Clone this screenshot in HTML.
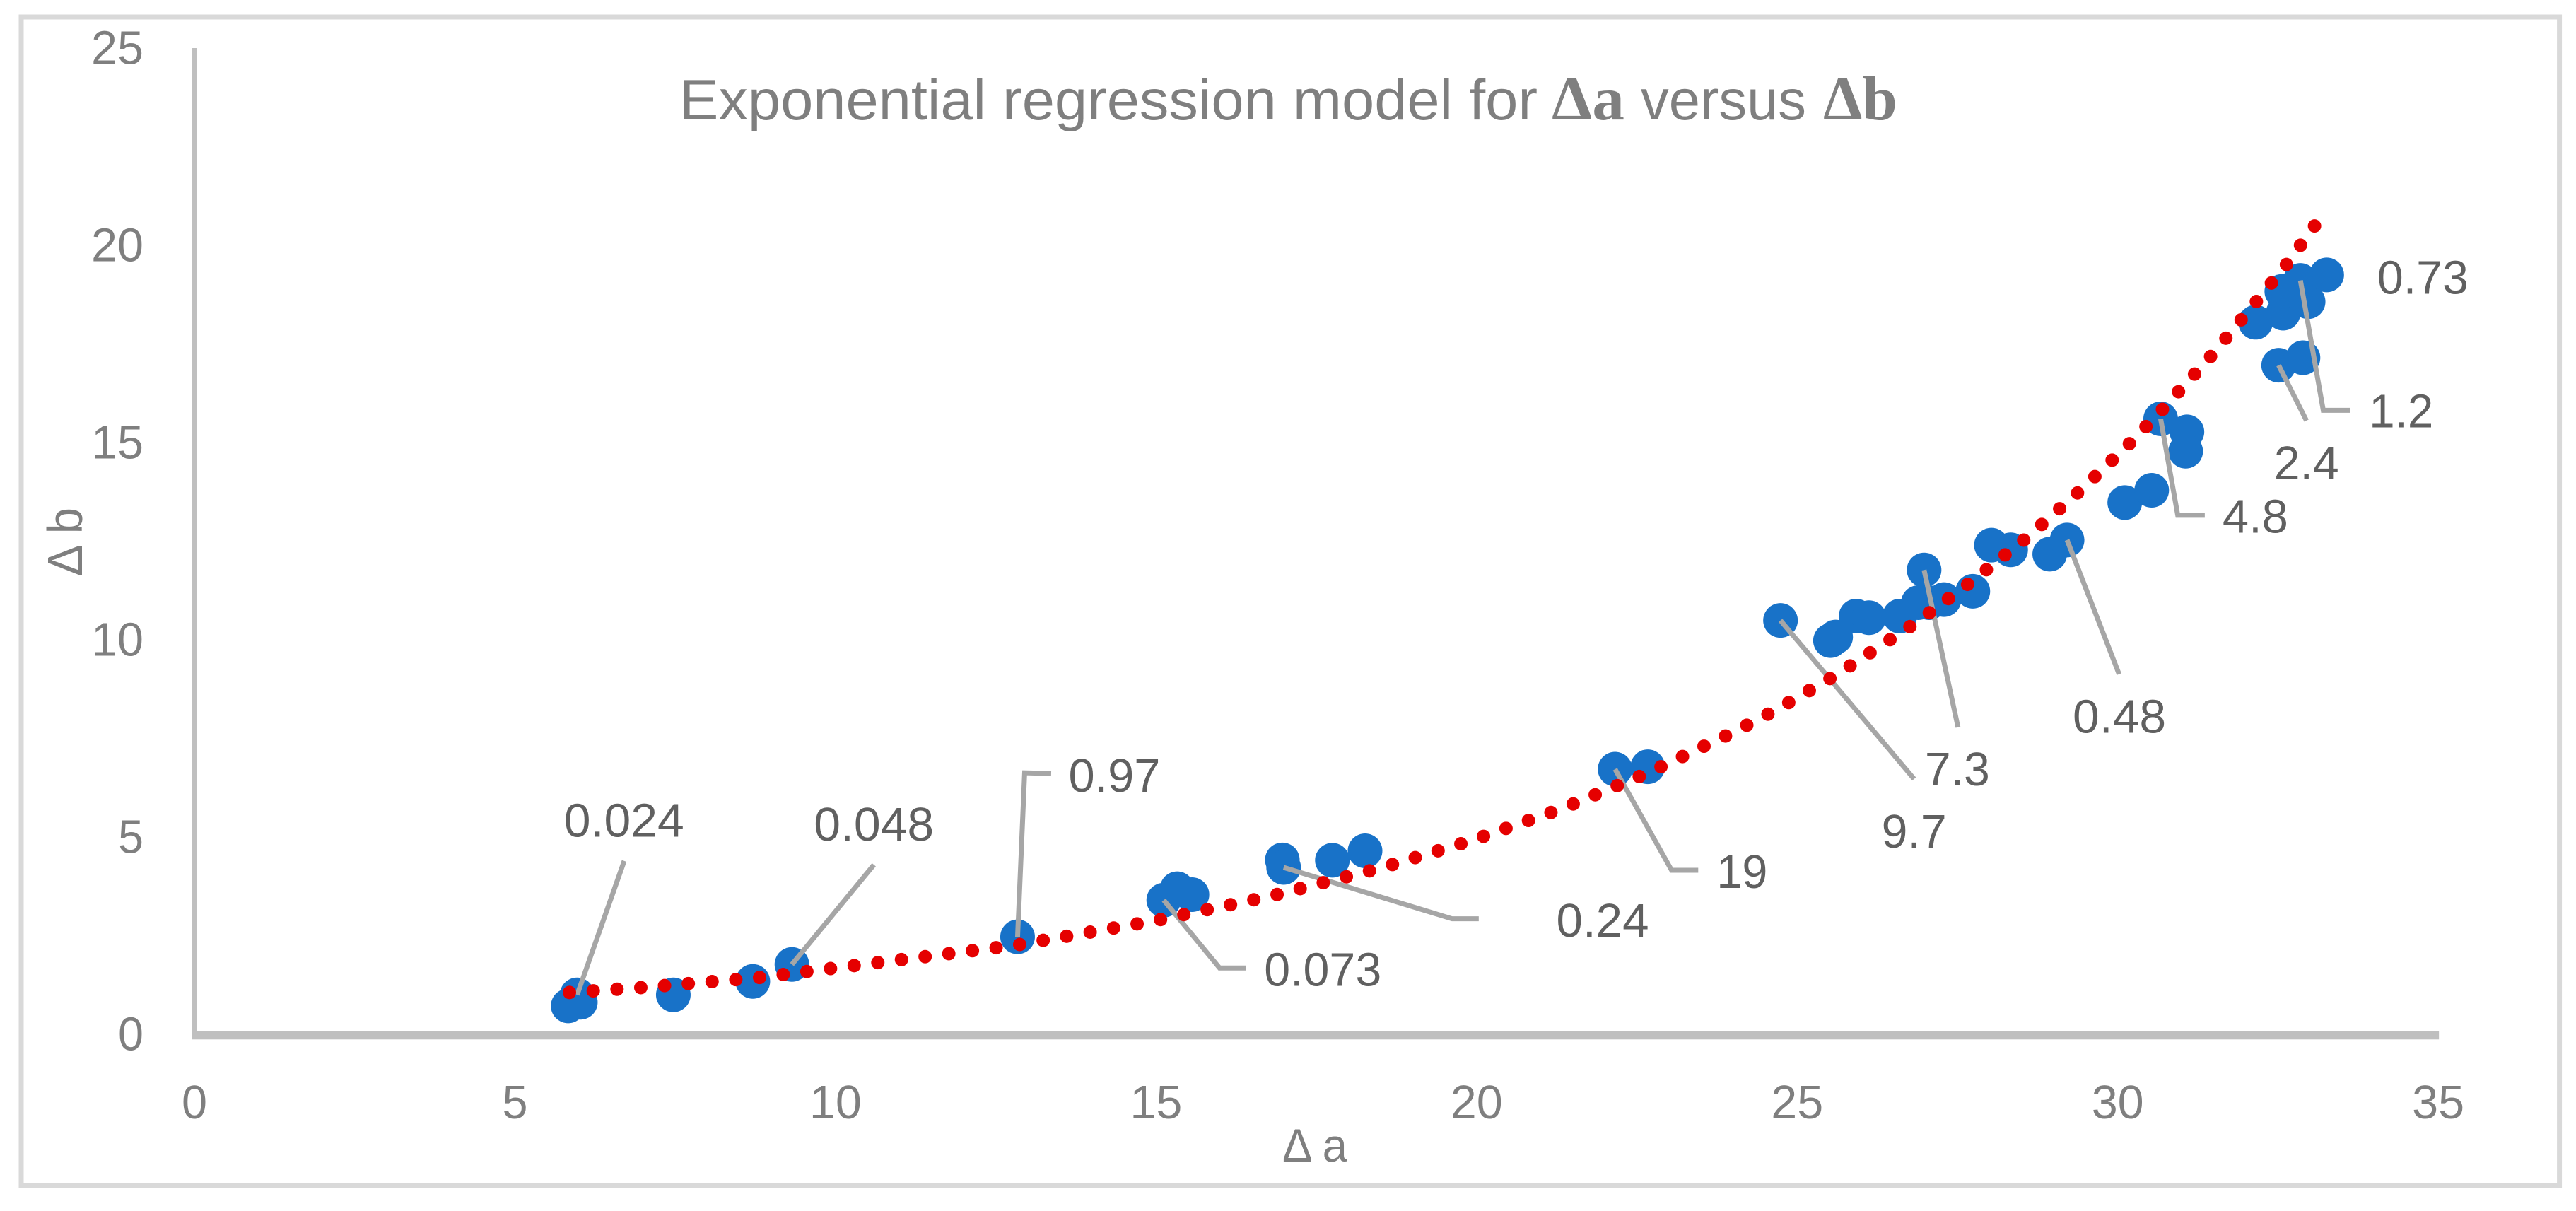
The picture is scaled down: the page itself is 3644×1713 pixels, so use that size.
<!DOCTYPE html>
<html lang="en">
<head>
<meta charset="utf-8">
<title>Exponential regression model</title>
<style>
html,body{margin:0;padding:0;background:#fff;}
svg{display:block;}
text{font-family:"Liberation Sans",sans-serif;}
.tick{font-size:67px;fill:#7f7f7f;}
.lbl{font-size:67px;fill:#606060;}
.ttl{font-size:81px;fill:#7f7f7f;}
.ttlb{font-family:"Liberation Serif",serif;font-weight:bold;font-size:88px;fill:#7f7f7f;}
.axt{font-size:66px;fill:#7f7f7f;}
.axty{font-size:70px;fill:#7f7f7f;}
</style>
</head>
<body>
<svg id="chart" xmlns="http://www.w3.org/2000/svg" width="3644" height="1713" viewBox="0 0 3644 1713">
  <rect x="0" y="0" width="3644" height="1713" fill="#ffffff"/>
  <rect x="30" y="24" width="3590.6" height="1653" fill="none" stroke="#d9d9d9" stroke-width="7"/>
  <g>
    <text class="ttl" x="961" y="169" textLength="1214" lengthAdjust="spacingAndGlyphs">Exponential regression model for</text>
    <text class="ttlb" x="2195" y="169" textLength="103" lengthAdjust="spacingAndGlyphs">Δa</text>
    <text class="ttl" x="2321" y="169" textLength="234" lengthAdjust="spacingAndGlyphs">versus</text>
    <text class="ttlb" x="2579" y="169" textLength="105" lengthAdjust="spacingAndGlyphs">Δb</text>
  </g>
  <text class="axt" x="1814" y="1643" textLength="92" lengthAdjust="spacingAndGlyphs">Δ a</text>
  <text class="axty" transform="translate(116 815) rotate(-90)" x="0" y="0" textLength="97" lengthAdjust="spacingAndGlyphs">Δ b</text>
  <g id="axes"></g>
  <g id="points"></g>
  <g id="leaders"></g>
  <g id="trend"></g>
  <g id="labels"></g>
</svg>
<script>
// Chart data
const xTicks = [0, 5, 10, 15, 20, 25, 30, 35];
const yTicks = [0, 5, 10, 15, 20, 25];
const deltaA = [5.83, 5.97, 6.02, 7.47, 8.71, 9.32, 12.84, 15.12, 15.33, 15.56, 16.97, 16.99, 17.75, 18.26, 22.16, 22.67, 24.74, 25.52, 25.6, 25.92, 26.12, 26.6, 26.89, 26.98, 27.06, 27.29, 27.74, 28.03, 28.33, 28.94, 29.21, 30.11, 30.53, 30.67, 31.08, 31.06, 32.51, 32.89, 32.15, 32.58, 32.56, 32.97, 32.85, 33.26];
const deltaB = [0.72, 1.0, 0.81, 1.0, 1.34, 1.77, 2.47, 3.4, 3.69, 3.54, 4.42, 4.23, 4.41, 4.65, 6.72, 6.78, 10.49, 9.98, 10.07, 10.6, 10.56, 10.6, 10.94, 11.77, 10.94, 11.02, 11.23, 12.4, 12.28, 12.17, 12.53, 13.48, 13.79, 15.6, 15.27, 14.78, 16.96, 17.15, 18.05, 18.28, 18.83, 18.57, 19.11, 19.25];
const trendA = [5.85, 6.94, 8.77, 12.78, 14.96, 16.76, 18.54, 19.94, 21.33, 22.68, 24.01, 24.67, 25.62, 26.85, 27.73, 28.59, 29.42, 30.22, 30.72, 31.47, 32.17, 32.64, 33.07];
const trendB = [1.06, 1.18, 1.43, 2.25, 2.87, 3.49, 4.23, 4.92, 5.72, 6.63, 7.66, 8.22, 9.12, 10.43, 11.49, 12.6, 13.79, 15.03, 15.88, 17.22, 18.59, 19.53, 20.49];
const labelValues = ['0.024', '0.048', '0.97', '0.073', '0.24', '19', '9.7', '7.3', '0.48', '4.8', '2.4', '1.2', '0.73'];
const labelPointIndex = [1, 5, 6, 7, 11, 14, 16, 23, 30, 33, 36, 42, 43];

// Axis functions
function xPos(v) { return 275 + v * 90.69; }
function yPos(v) { return 1463 - v * 55.8; }

// Label layout relative to the anchor point (pixels): leader path offsets, text left, baseline, text width
const labelLayout = {
  '0.024': { path: [[66.6, -189.4]], tx: -18.6, ty: -223.5, w: 170 },
  '0.048': { path: [[116, -141]], tx: 31, ty: -175, w: 170 },
  '0.97': { path: [[10, -232], [47.5, -231]], tx: 72, ty: -205.4, w: 130 },
  '0.073': { path: [[79, 96], [116, 96]], tx: 142, ty: 121, w: 166 },
  '0.24': { path: [[238.4, 72.7], [276, 72.7]], tx: 385.7, ty: 98, w: 131 },
  '19': { path: [[80, 143], [117.6, 143]], tx: 143.7, ty: 168, w: 72 },
  '9.7': { path: [[189, 224.2]], tx: 143, ty: 321.2, w: 92 },
  '7.3': { path: [[48, 222.5]], tx: 1, ty: 305, w: 92 },
  '0.48': { path: [[73.6, 189.8]], tx: 8, ty: 272.7, w: 132 },
  '4.8': { path: [[24.2, 136.3], [62.4, 136.3]], tx: 87.4, ty: 160.9, w: 93 },
  '2.4': { path: [[39.4, 78.3]], tx: -6.6, ty: 161.3, w: 92 },
  '1.2': { path: [[32.3, 183.7], [70.6, 183.7]], tx: 97.1, ty: 208, w: 91 },
  '0.73': { path: [], tx: 71.5, ty: 26.7, w: 129 }
};

const NS = 'http://www.w3.org/2000/svg';
function mk(tag, parent) {
  const el = document.createElementNS(NS, tag);
  parent.appendChild(el);
  return el;
}

const axes = document.getElementById('axes');

const yLine = mk('rect', axes);


yLine.setAttribute('x', xPos(0) - 3);
yLine.setAttribute('y', yPos(25));
yLine.setAttribute('width', 6);
yLine.setAttribute('height', yPos(0) - yPos(25));
yLine.setAttribute('fill', '#bfbfbf');

const xLine = mk('rect', axes);


xLine.setAttribute('x', xPos(0) - 3);
xLine.setAttribute('y', yPos(0) - 4.7);
xLine.setAttribute('width', xPos(35) - xPos(0) + 4);
xLine.setAttribute('height', 12);
xLine.setAttribute('fill', '#bfbfbf');

xTicks.forEach(function (t) {
  const el = mk('text', axes);
  
  
  el.setAttribute('class', 'tick');
  el.setAttribute('x', xPos(t));
  el.setAttribute('y', 1582);
  el.setAttribute('text-anchor', 'middle');
  el.setAttribute('textLength', String(t).length > 1 ? 74 : 36);
  el.setAttribute('lengthAdjust', 'spacingAndGlyphs');
  el.textContent = t;
});

yTicks.forEach(function (t) {
  const el = mk('text', axes);
  
  
  el.setAttribute('class', 'tick');
  el.setAttribute('x', 203);
  el.setAttribute('y', yPos(t) + 22.5);
  el.setAttribute('text-anchor', 'end');
  el.setAttribute('textLength', String(t).length > 1 ? 74 : 36);
  el.setAttribute('lengthAdjust', 'spacingAndGlyphs');
  el.textContent = t;
});

const pointsG = document.getElementById('points');
deltaA.forEach(function (a, i) {
  const c = mk('circle', pointsG);
  
  
  c.setAttribute('cx', xPos(a));
  c.setAttribute('cy', yPos(deltaB[i]));
  c.setAttribute('r', 24.5);
  c.setAttribute('fill', '#1872c8');
});

const leadersG = document.getElementById('leaders');
const labelsG = document.getElementById('labels');
labelValues.forEach(function (val, i) {
  const idx = labelPointIndex[i];
  const ax = xPos(deltaA[idx]);
  const ay = yPos(deltaB[idx]);
  const lay = labelLayout[val];
  if (lay.path.length) {
    const pts = [[ax, ay]].concat(lay.path.map(function (p) { return [ax + p[0], ay + p[1]]; }));
    const line = mk('polyline', leadersG);
    
    
    line.setAttribute('points', pts.map(function (p) { return p.join(','); }).join(' '));
    line.setAttribute('fill', 'none');
    line.setAttribute('stroke', '#a6a6a6');
    line.setAttribute('stroke-width', 7);
  }
  const t = mk('text', labelsG);
  
  
  t.setAttribute('class', 'lbl');
  t.setAttribute('x', ax + lay.tx);
  t.setAttribute('y', ay + lay.ty);
  t.setAttribute('textLength', lay.w);
  t.setAttribute('lengthAdjust', 'spacingAndGlyphs');
  t.textContent = val;
});

const trendG = document.getElementById('trend');
const trendLine = mk('polyline', trendG);


trendLine.setAttribute('points', trendA.map(function (a, i) { return xPos(a) + ',' + yPos(trendB[i]); }).join(' '));
trendLine.setAttribute('fill', 'none');
trendLine.setAttribute('stroke', '#e50000');
trendLine.setAttribute('stroke-width', 19);
trendLine.setAttribute('stroke-linecap', 'round');
const trendLen = trendLine.getTotalLength();
trendLine.setAttribute('stroke-dasharray', '0 ' + (trendLen / Math.round(trendLen / 33.6)));
</script>
</body>
</html>
